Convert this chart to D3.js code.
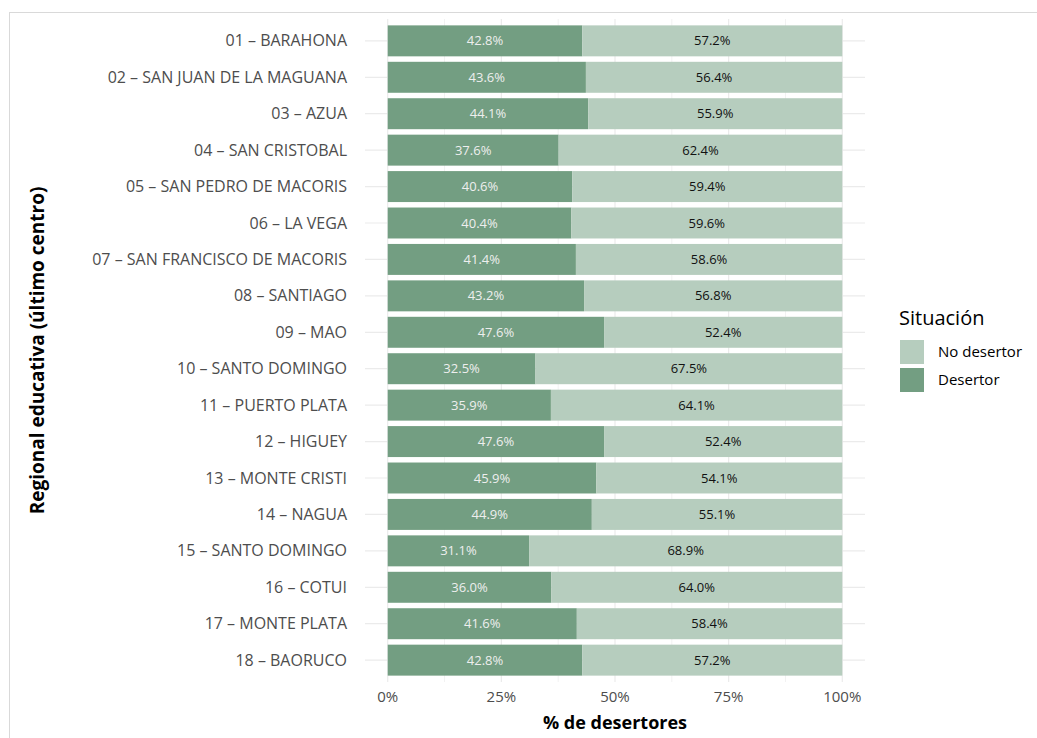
<!DOCTYPE html>
<html>
<head>
<meta charset="utf-8">
<script src="https://cdn.jsdelivr.net/npm/d3@7"></script>
<style>
  body { margin: 0; background: #fff; }
  svg text { font-family: "Open Sans", "Noto Sans", sans-serif; }
</style>
</head>
<body>
<div id="chart"></div>
<script>
const regions = [
  '01 – BARAHONA', '02 – SAN JUAN DE LA MAGUANA', '03 – AZUA', '04 – SAN CRISTOBAL',
  '05 – SAN PEDRO DE MACORIS', '06 – LA VEGA', '07 – SAN FRANCISCO DE MACORIS',
  '08 – SANTIAGO', '09 – MAO', '10 – SANTO DOMINGO', '11 – PUERTO PLATA', '12 – HIGUEY',
  '13 – MONTE CRISTI', '14 – NAGUA', '15 – SANTO DOMINGO', '16 – COTUI',
  '17 – MONTE PLATA', '18 – BAORUCO'
];
const desertor = [42.8, 43.6, 44.1, 37.6, 40.6, 40.4, 41.4, 43.2, 47.6, 32.5, 35.9, 47.6, 45.9, 44.9, 31.1, 36.0, 41.6, 42.8];
const noDesertor = [57.2, 56.4, 55.9, 62.4, 59.4, 59.6, 58.6, 56.8, 52.4, 67.5, 64.1, 52.4, 54.1, 55.1, 68.9, 64.0, 58.4, 57.2];
const xTicks = [0, 25, 50, 75, 100];
const legendLabels = ['No desertor', 'Desertor'];

const W = 1037, H = 738;
const colDark = '#739e82', colLight = '#b6cdbe';

const svg = d3.select('#chart').append('svg')
  .attr('width', W)
  .attr('height', H);

// outer frame
svg.append('rect')
  .attr('x', 9.5).attr('y', 12.5)
  .attr('width', W).attr('height', H)
  .attr('fill', 'none')
  .attr('stroke', '#d9d9d9');

const panel = { left: 365, right: 865, top: 19, bottom: 682 };

// continuous scale with 5% expansion
const x = d3.scaleLinear()
  .domain([-5, 105])
  .range([panel.left, panel.right]);

const y = d3.scalePoint()
  .domain(regions)
  .range([panel.top, panel.bottom])
  .padding(0.6);

const step = y.step();
const barH = step * 0.85;

// minor gridlines
svg.append('g').selectAll('line')
  .data([12.5, 37.5, 62.5, 87.5])
  .join('line')
  .attr('x1', d => x(d)).attr('x2', d => x(d))
  .attr('y1', panel.top).attr('y2', panel.bottom)
  .attr('stroke', '#f2f2f2').attr('stroke-width', 1);

// major gridlines
svg.append('g').selectAll('line')
  .data(xTicks)
  .join('line')
  .attr('x1', d => x(d)).attr('x2', d => x(d))
  .attr('y1', panel.top).attr('y2', panel.bottom)
  .attr('stroke', '#ebebeb').attr('stroke-width', 1.2);

svg.append('g').selectAll('line')
  .data(regions)
  .join('line')
  .attr('x1', panel.left).attr('x2', panel.right)
  .attr('y1', d => y(d)).attr('y2', d => y(d))
  .attr('stroke', '#ebebeb').attr('stroke-width', 1.2);

// bars
const rows = regions.map((r, i) => ({ r, d: desertor[i], n: noDesertor[i] }));

const g = svg.append('g');
g.selectAll('.dark')
  .data(rows)
  .join('rect')
  .attr('x', x(0))
  .attr('y', d => y(d.r) - barH / 2)
  .attr('width', d => x(d.d) - x(0))
  .attr('height', barH)
  .attr('fill', colDark);

g.selectAll('.light')
  .data(rows)
  .join('rect')
  .attr('x', d => x(d.d))
  .attr('y', d => y(d.r) - barH / 2)
  .attr('width', d => x(100) - x(d.d))
  .attr('height', barH)
  .attr('fill', colLight);

g.selectAll('.ld')
  .data(rows)
  .join('text')
  .attr('x', d => x(d.d / 2))
  .attr('y', d => y(d.r))
  .attr('dy', '0.35em')
  .attr('text-anchor', 'middle')
  .attr('font-size', 13)
  .attr('fill', '#eeeeee')
  .text(d => d.d.toFixed(1) + '%');

g.selectAll('.ln')
  .data(rows)
  .join('text')
  .attr('x', d => x(d.d + d.n / 2))
  .attr('y', d => y(d.r))
  .attr('dy', '0.35em')
  .attr('text-anchor', 'middle')
  .attr('font-size', 13)
  .attr('fill', '#111')
  .text(d => d.n.toFixed(1) + '%');

// y axis labels
svg.append('g').selectAll('text')
  .data(regions)
  .join('text')
  .attr('x', 347)
  .attr('y', d => y(d))
  .attr('dy', '0.35em')
  .attr('text-anchor', 'end')
  .attr('font-size', 16)
  .attr('fill', '#4d4d4d')
  .text(d => d);

// x axis labels
svg.append('g').selectAll('text')
  .data(xTicks)
  .join('text')
  .attr('x', d => x(d))
  .attr('y', 697)
  .attr('dy', '0.35em')
  .attr('text-anchor', 'middle')
  .attr('font-size', 15)
  .attr('fill', '#4d4d4d')
  .text(d => d + '%');

// axis titles
svg.append('text')
  .attr('x', x(50))
  .attr('y', 729)
  .attr('text-anchor', 'middle')
  .attr('font-size', 18)
  .attr('font-weight', 'bold')
  .attr('fill', '#000')
  .text('% de desertores');

svg.append('text')
  .attr('transform', `translate(44, ${(panel.top + panel.bottom) / 2}) rotate(-90)`)
  .attr('text-anchor', 'middle')
  .attr('font-size', 19)
  .attr('font-weight', 'bold')
  .attr('fill', '#000')
  .text('Regional educativa (último centro)');

// legend
const legend = svg.append('g').attr('transform', 'translate(899, 0)');
legend.append('text')
  .attr('x', 0).attr('y', 325)
  .attr('font-size', 20)
  .attr('fill', '#000')
  .text('Situación');

legend.selectAll('rect')
  .data(legendLabels)
  .join('rect')
  .attr('x', 1)
  .attr('y', (d, i) => 340 + i * 28)
  .attr('width', 24).attr('height', 24)
  .attr('fill', (d, i) => i === 0 ? colLight : colDark);

legend.selectAll('.lab')
  .data(legendLabels)
  .join('text')
  .attr('x', 39)
  .attr('y', (d, i) => 352 + i * 28)
  .attr('dy', '0.35em')
  .attr('font-size', 15)
  .attr('fill', '#000')
  .text(d => d);
</script>
</body>
</html>
